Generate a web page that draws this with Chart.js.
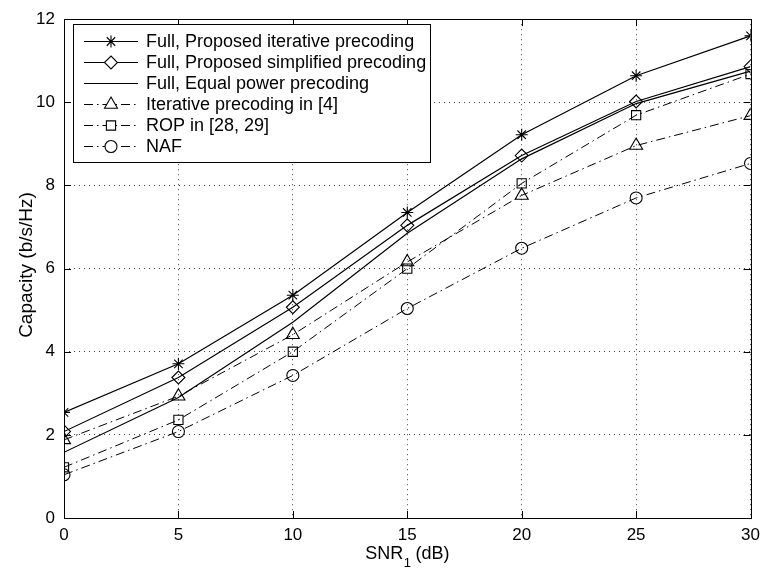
<!DOCTYPE html>
<html lang="en">
<head>
  <meta charset="UTF-8" />
  <title>Capacity vs SNR</title>
  <style>
    html, body { margin: 0; padding: 0; background: #fff; }
    #wrap { width: 767px; height: 570px; }
  </style>
</head>
<body>
  <div id="wrap"><canvas id="chart" width="767" height="570"></canvas></div>

  <script src="https://cdn.jsdelivr.net/npm/chart.js"></script>
  <script>
    // data
    const snr = [0, 5, 10, 15, 20, 25, 30];
    const fullIterative  = [2.54, 3.71, 5.36, 7.35, 9.22, 10.64, 11.60];
    const fullSimplified = [2.08, 3.38, 5.07, 7.04, 8.72, 10.02, 10.86];
    const fullEqual      = [1.58, 2.90, 4.71, 6.85, 8.64, 9.97, 10.75];
    const iterRef4       = [1.88, 2.93, 4.41, 6.16, 7.76, 8.96, 9.68];
    const ropRef         = [1.22, 2.36, 4.00, 6.00, 8.05, 9.69, 10.68];
    const naf            = [1.04, 2.08, 3.43, 5.04, 6.49, 7.70, 8.53];

    const names = [
      "Full, Proposed iterative precoding",
      "Full, Proposed simplified precoding",
      "Full, Equal power precoding",
      "Iterative precoding in [4]",
      "ROP in [28, 29]",
      "NAF"
    ];
    const xTicks = [0, 5, 10, 15, 20, 25, 30];
    const yTicks = [0, 2, 4, 6, 8, 10, 12];

    const FONT = "Liberation Sans, Arial, Helvetica, sans-serif";
    const dashDot = [9, 4, 1.5, 4];

    function toPoints(ys) {
      return snr.map((x, i) => ({ x: x, y: ys[i] }));
    }

    function series(label, ys, style, radius, dash) {
      return {
        label: label,
        data: toPoints(ys),
        borderColor: "#000",
        borderWidth: dash.length ? 1 : 1.2,
        borderDash: dash,
        backgroundColor: "rgba(0,0,0,0)",
        pointStyle: style,
        pointRadius: radius,
        pointBorderColor: "#000",
        pointBackgroundColor: "rgba(0,0,0,0)",
        pointBorderWidth: 1.1,
        tension: 0,
        fill: false
      };
    }

    const datasets = [
      series(names[0], fullIterative, "star", 6, []),
      series(names[1], fullSimplified, "rectRot", 6.5, []),
      series(names[2], fullEqual, false, 0, []),
      series(names[3], iterRef4, "triangle", 7.5, dashDot),
      series(names[4], ropRef, "rect", 6.5, dashDot),
      series(names[5], naf, "circle", 6, dashDot)
    ];

    // box, inward ticks, legend and axis titles (matlab look)
    const decor = {
      id: "decor",
      afterDatasetsDraw(chart) {
        const ctx = chart.ctx;
        const a = chart.chartArea;
        const xs = chart.scales.x, ys = chart.scales.y;
        const tl = 7;
        ctx.save();
        ctx.strokeStyle = "#000";
        ctx.lineWidth = 1;
        ctx.setLineDash([]);
        ctx.beginPath();
        xTicks.forEach(v => {
          const px = Math.round(xs.getPixelForValue(v)) + 0.5;
          ctx.moveTo(px, a.bottom); ctx.lineTo(px, a.bottom - tl);
          ctx.moveTo(px, a.top); ctx.lineTo(px, a.top + tl);
        });
        yTicks.forEach(v => {
          const py = Math.round(ys.getPixelForValue(v)) + 0.5;
          ctx.moveTo(a.left, py); ctx.lineTo(a.left + tl, py);
          ctx.moveTo(a.right, py); ctx.lineTo(a.right - tl, py);
        });
        ctx.stroke();
        ctx.strokeRect(Math.round(a.left) + 0.5, Math.round(a.top) + 0.5,
          Math.round(a.right - a.left), Math.round(a.bottom - a.top));

        // legend
        const lx = 73.5, ly = 24.5, lw = 357, lh = 138;
        ctx.fillStyle = "#fff";
        ctx.fillRect(lx, ly, lw, lh);
        ctx.strokeRect(lx, ly, lw, lh);
        ctx.font = "18px " + FONT;
        ctx.textBaseline = "middle";
        ctx.textAlign = "left";
        chart.data.datasets.forEach((ds, i) => {
          const cy = 41.5 + i * 21;
          ctx.save();
          ctx.strokeStyle = "#000";
          ctx.lineWidth = ds.borderWidth;
          ctx.setLineDash(ds.borderDash);
          ctx.beginPath();
          ctx.moveTo(84, cy); ctx.lineTo(138, cy);
          ctx.stroke();
          ctx.restore();
          if (ds.pointStyle) {
            ctx.save();
            ctx.lineWidth = 1.1;
            ctx.strokeStyle = "#000";
            ctx.fillStyle = "#fff";
            Chart.helpers.drawPoint(ctx, {
              pointStyle: ds.pointStyle, radius: ds.pointRadius, borderWidth: 1.1, rotation: 0
            }, 111, cy);
            ctx.restore();
          }
          ctx.fillStyle = "#000";
          ctx.fillText(ds.label, 146, cy + 1);
        });

        // axis titles
        ctx.fillStyle = "#000";
        ctx.textBaseline = "alphabetic";
        const main = "SNR", tail = " (dB)";
        ctx.font = "18px " + FONT;
        const w1 = ctx.measureText(main).width;
        const w3 = ctx.measureText(tail).width;
        ctx.font = "13px " + FONT;
        const w2 = ctx.measureText("1").width;
        const total = w1 + w2 + w3;
        let x0 = (a.left + a.right) / 2 - total / 2;
        const base = 559;
        ctx.font = "18px " + FONT;
        ctx.fillText(main, x0, base);
        ctx.font = "13px " + FONT;
        ctx.fillText("1", x0 + w1 + 0.5, base + 8);
        ctx.font = "18px " + FONT;
        ctx.fillText(tail, x0 + w1 + w2, base);

        ctx.translate(32, 265);
        ctx.rotate(-Math.PI / 2);
        ctx.textAlign = "center";
        ctx.font = "19px " + FONT;
        ctx.fillText("Capacity (b/s/Hz)", 0, 0);
        ctx.restore();
      }
    };

    new Chart(document.getElementById("chart").getContext("2d"), {
      type: "line",
      data: { datasets: datasets },
      options: {
        responsive: false,
        animation: false,
        events: [],
        layout: { padding: { top: 16, right: 11, left: 0, bottom: 0 } },
        plugins: { legend: { display: false }, tooltip: { enabled: false } },
        scales: {
          x: {
            type: "linear",
            min: 0, max: 30,
            afterBuildTicks: s => { s.ticks = xTicks.map(v => ({ value: v })); },
            afterFit: s => { s.height = 52; },
            ticks: { color: "#000", font: { size: 17, family: FONT }, padding: 7, maxRotation: 0 },
            grid: { color: "#444", lineWidth: 1, drawTicks: false },
            border: { display: false, dash: [1, 4] }
          },
          y: {
            type: "linear",
            min: 0, max: 12,
            afterBuildTicks: s => { s.ticks = yTicks.map(v => ({ value: v })); },
            afterFit: s => { s.width = 64; },
            ticks: { color: "#000", font: { size: 17, family: FONT }, padding: 9 },
            grid: { color: "#444", lineWidth: 1, drawTicks: false },
            border: { display: false, dash: [1, 4] }
          }
        }
      },
      plugins: [decor]
    });
  </script>
</body>
</html>
